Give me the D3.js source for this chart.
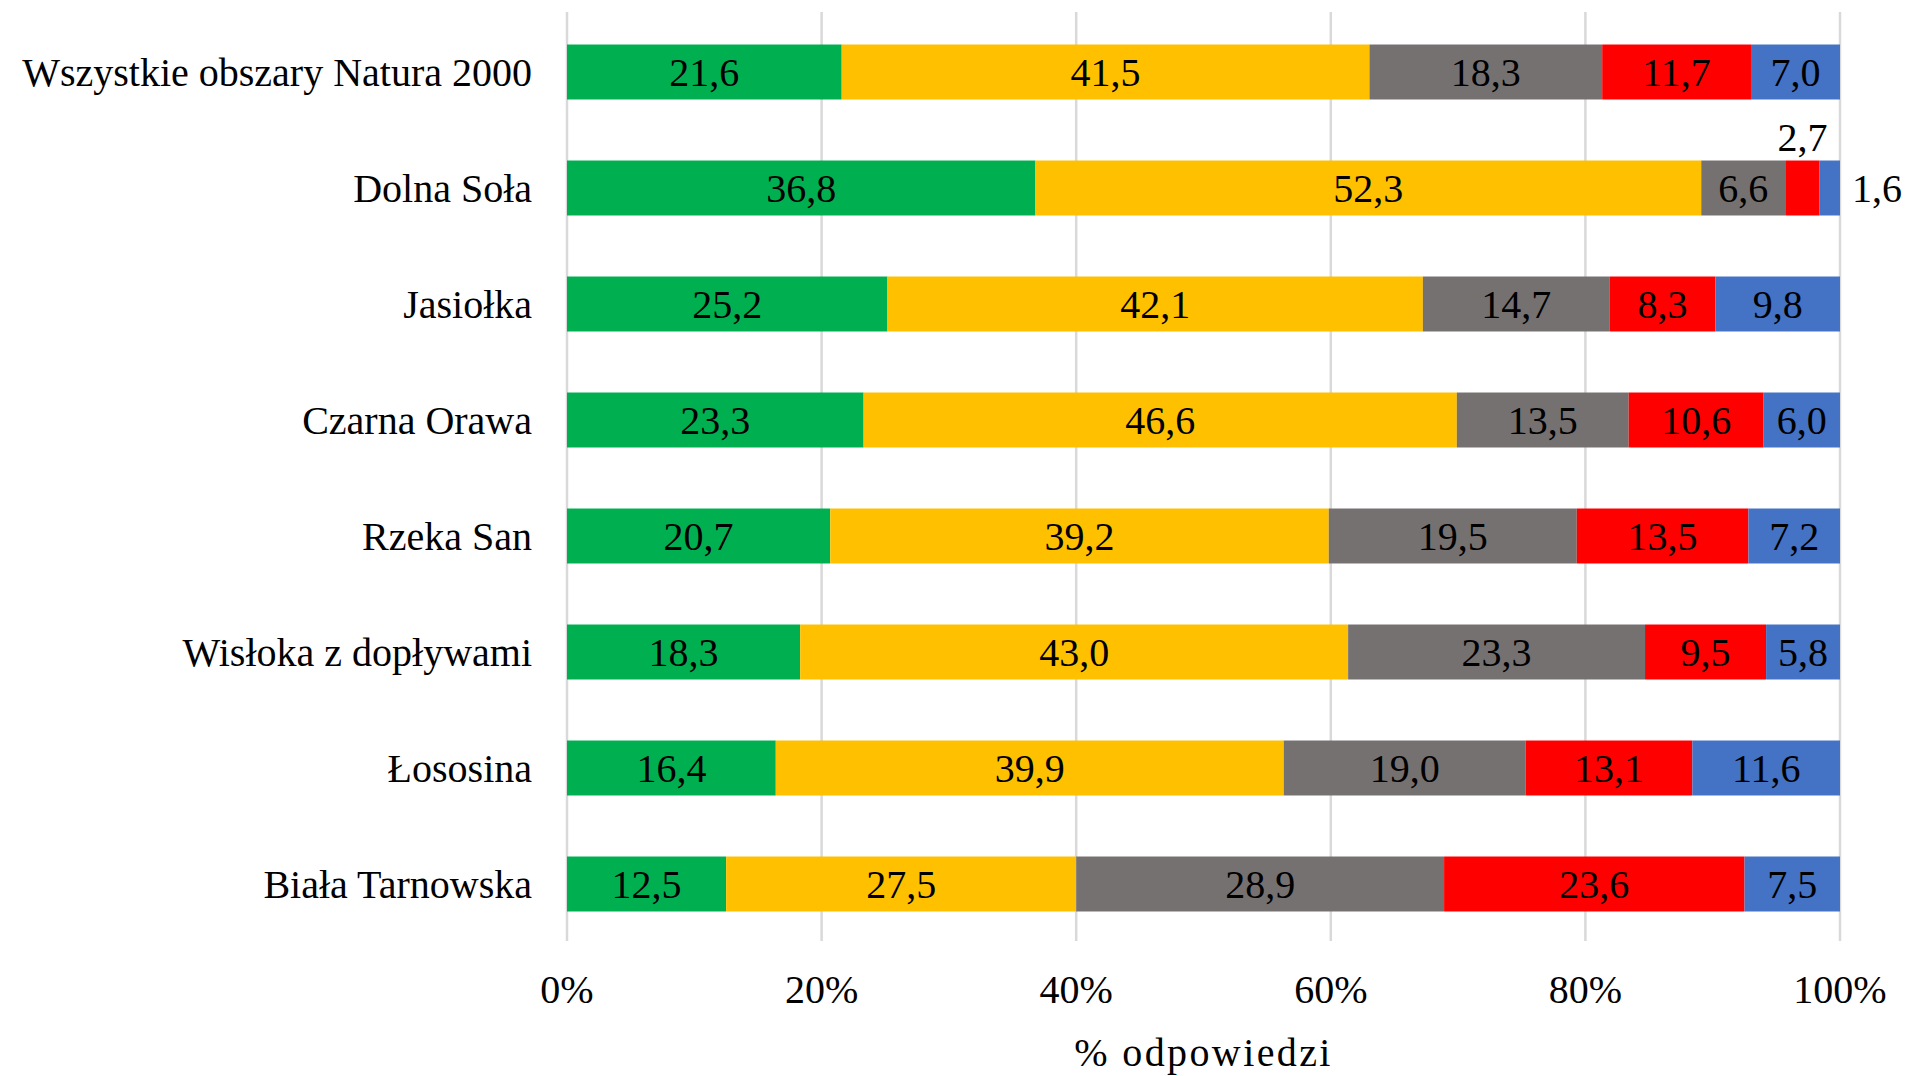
<!DOCTYPE html>
<html>
<head>
<meta charset="utf-8">
<script src="https://cdn.jsdelivr.net/npm/d3@7"></script>
<style>
  body { margin: 0; background: #fff; }
  svg text { font-family: "Liberation Serif", "Times New Roman", serif; fill: #000; }
</style>
</head>
<body>
<div id="vis"></div>
<script>
var categories = ["Wszystkie obszary Natura 2000", "Dolna Soła", "Jasiołka", "Czarna Orawa",
                  "Rzeka San", "Wisłoka z dopływami", "Łososina", "Biała Tarnowska"];
var keys = ["s1", "s2", "s3", "s4", "s5"];
var s1 = [21.6, 36.8, 25.2, 23.3, 20.7, 18.3, 16.4, 12.5];
var s2 = [41.5, 52.3, 42.1, 46.6, 39.2, 43.0, 39.9, 27.5];
var s3 = [18.3, 6.6, 14.7, 13.5, 19.5, 23.3, 19.0, 28.9];
var s4 = [11.7, 2.7, 8.3, 10.6, 13.5, 9.5, 13.1, 23.6];
var s5 = [7.0, 1.6, 9.8, 6.0, 7.2, 5.8, 11.6, 7.5];
var ticks = [0, 0.2, 0.4, 0.6, 0.8, 1];
var colors = ["#00B050", "#FFC000", "#767171", "#FF0000", "#4472C4"];

var series = [s1, s2, s3, s4, s5];
var data = categories.map(function(c, i) {
  var d = {cat: c};
  keys.forEach(function(k, j) { d[k] = series[j][i]; });
  return d;
});

var svg = d3.select("#vis").append("svg")
  .attr("width", 1909)
  .attr("height", 1076);

var x = d3.scaleLinear().domain([0, 1]).range([567, 1840]);
var y = d3.scaleBand().domain(categories).range([14, 942])
  .paddingInner(0.526).paddingOuter(0.263);
var z = d3.scaleOrdinal().domain(keys).range(colors);

// gridlines
svg.append("g").selectAll("line")
  .data(ticks)
  .enter().append("line")
  .attr("x1", function(d) { return x(d); })
  .attr("x2", function(d) { return x(d); })
  .attr("y1", 12)
  .attr("y2", 941)
  .attr("stroke", "#D9D9D9")
  .attr("stroke-width", 2.5);

var stacked = d3.stack().keys(keys).offset(d3.stackOffsetExpand)(data);

var layer = svg.append("g").selectAll("g")
  .data(stacked)
  .enter().append("g")
  .attr("fill", function(d) { return z(d.key); });

layer.selectAll("rect")
  .data(function(d) { return d; })
  .enter().append("rect")
  .attr("x", function(d) { return x(d[0]); })
  .attr("y", function(d) { return y(d.data.cat); })
  .attr("width", function(d) { return x(d[1]) - x(d[0]); })
  .attr("height", y.bandwidth());

var fmt = function(v) { return v.toFixed(1).replace(".", ","); };

// data labels
stacked.forEach(function(s) {
  s.forEach(function(d) {
    var v = d.data[s.key];
    var cx = (x(d[0]) + x(d[1])) / 2,
        cy = y(d.data.cat) + y.bandwidth() / 2,
        anchor = "middle";
    if (v < 2) {          // too thin: label to the right of the bar
      cx = x(d[1]) + 12;
      anchor = "start";
    } else if (v < 3) {   // too thin: label above the segment
      cy = y(d.data.cat) - 24;
    }
    svg.append("text")
      .attr("x", cx)
      .attr("y", cy)
      .attr("dy", "0.35em")
      .attr("text-anchor", anchor)
      .attr("font-size", 40)
      .text(fmt(v));
  });
});

// category labels
svg.append("g").selectAll("text")
  .data(categories)
  .enter().append("text")
  .attr("x", 532)
  .attr("y", function(d) { return y(d) + y.bandwidth() / 2; })
  .attr("dy", "0.35em")
  .attr("text-anchor", "end")
  .attr("font-size", 40)
  .text(function(d) { return d; });

// x tick labels
svg.append("g").selectAll("text")
  .data(ticks)
  .enter().append("text")
  .attr("x", function(d) { return x(d); })
  .attr("y", 1003)
  .attr("text-anchor", "middle")
  .attr("font-size", 40)
  .text(d3.format(".0%"));

svg.append("text")
  .attr("x", (x(0) + x(1)) / 2)
  .attr("y", 1066)
  .attr("text-anchor", "middle")
  .attr("font-size", 40)
  .attr("letter-spacing", 2.4)
  .text("% odpowiedzi");
</script>
</body>
</html>
